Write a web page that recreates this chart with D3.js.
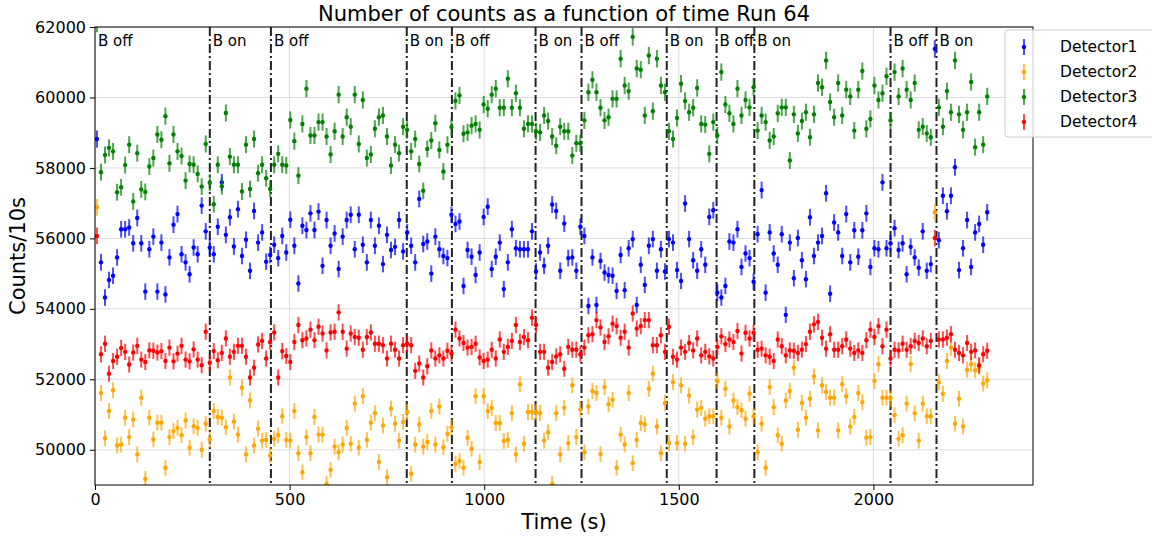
<!DOCTYPE html>
<html><head><meta charset="utf-8">
<script src="https://cdn.jsdelivr.net/npm/d3@7"></script>
<style>
html,body{margin:0;padding:0;background:#fff;}
text{font-family:"DejaVu Sans",sans-serif;}
</style></head>
<body><svg id="chart" width="1152" height="539"></svg>
<script>
const seriesNames = ["Detector1","Detector2","Detector3","Detector4"];
const seriesColors = ["#0000ff","#ffa500","#008000","#ff0000"];
const xTicks = [0,500,1000,1500,2000];
const yTicks = [50000,52000,54000,56000,58000,60000,62000];
const switchTimes = [295,452,801,917,1132,1250,1469,1597,1694,2044,2162];
const switchLabels = ["B off","B on","B off","B on","B off","B on","B off","B on","B off","B on","B off","B on"];
const tStart = 5, tStep = 10.35;

const detector3 = [62100,57880,58370,58570,58470,57310,57450,58080,58660,57050,58420,57390,57320,58040,58280,58950,58800,59470,58130,58950,58470,58340,57640,58110,58090,57830,57470,58680,57580,56970,58090,57480,59560,58320,58090,58090,57330,58660,
57400,58820,57850,58090,57710,57400,58090,58400,58090,58070,59360,58760,57780,59250,60250,58920,58920,59300,59300,58890,58380,59040,60080,58890,59440,59170,60080,58680,59930,58280,58380,59110,59440,59490,58890,58070,58660,58420,59170,
59080,58470,58820,58110,57350,58540,58780,59270,58510,57900,58660,59160,59900,60060,58970,59010,59200,59250,59080,59800,59680,60080,60250,59710,59710,60530,59710,60120,59710,59110,59250,59250,59040,59010,59490,59330,58890,58630,
59170,59040,59040,58350,58700,58700,59350,60150,60500,60150,59710,59350,59440,59960,59960,61100,60340,60180,61720,60820,60790,59490,61190,59610,61100,60340,60150,59040,58820,59420,60390,59900,59580,59710,60270,59250,59230,58400,
59300,58920,60720,59800,59550,59250,60250,59490,59930,59720,60290,59060,59490,59300,58780,58890,59550,59720,59720,58210,59520,58980,59330,59580,58870,59520,60410,60290,61050,59870,59440,60410,59490,60220,60030,59060,60220,60750,59110,
59390,60340,59930,60120,60600,59350,60720,60030,60820,60220,59930,60410,59080,59170,58980,58870,64500,59720,59170,60180,59580,61050,59520,59080,59580,60440,58590,59580,58660,60030];

const detector1 = [58820,55320,54320,54820,54940,55460,56260,56260,56310,55860,56580,55860,54490,55690,56050,54490,55880,54410,55460,56390,56690,55550,55320,54980,55740,55550,56930,56200,55740,55550,56330,57590,56100,56600,55770,56830,55500,55960,
55080,56780,55880,56170,55340,55530,55820,55440,56070,55600,56530,55790,54720,56360,56240,56710,56240,56760,55220,56520,55790,56140,55130,56050,56520,56670,55690,56670,55820,55320,56520,55790,56360,55270,56100,55670,55760,56520,55630,
56170,55790,55320,57120,55840,55910,55000,56050,55690,55500,55440,56670,56410,56480,54650,55670,55480,54960,55600,56610,56900,55130,55480,55880,54560,55320,56260,55720,55690,55690,55690,56200,55060,55600,55220,55790,56960,56780,
55080,56420,55440,55460,55080,56330,56070,54080,55460,54110,55360,55030,54960,54940,54510,55530,54530,55720,55980,54110,55250,54680,55790,55980,55080,55690,55060,55980,55880,55100,54790,56990,55980,55380,55080,55690,55250,56610,
56800,54460,54320,54650,55910,55880,56260,55190,55570,55440,54770,56120,57370,54460,56170,55570,55250,56120,53830,55880,54870,56010,55380,54840,56600,55500,55880,56070,57280,54430,56450,56170,55500,56690,55320,56230,55480,56230,56710,
55190,55720,55690,57590,55720,55860,56290,55670,55860,54980,55760,55460,55170,56200,55080,55270,61380,55950,57210,56770,57210,58020,55100,55720,56520,55190,56170,56410,55820,56740];

const detector4 = [56070,52710,53010,52160,52520,52640,52890,52780,52420,52760,52950,52560,52490,52820,52810,52760,52800,52520,52900,52510,52730,52950,52560,52510,52850,52560,52400,53350,52470,52800,52540,52750,53160,52640,52780,52950,52950,52640,
52050,52330,52990,53090,52590,53060,53330,52050,52800,52660,52490,53060,53540,53110,53160,53410,53110,53490,53300,52820,53330,53350,53900,53350,52870,53300,53200,53180,52840,53200,53330,53010,53010,52970,52590,53010,52840,52590,52970,
53010,52970,52240,52450,52050,52370,52820,52590,52680,52590,52810,52730,53410,53160,53030,52900,52920,53010,52620,52520,52560,52840,52590,53130,52780,52920,53090,53540,53060,53200,53110,53750,53540,52780,52780,52330,52490,52650,
52710,52300,52920,52840,52840,52710,52900,53250,53280,53680,53470,53060,53220,53580,53510,53180,53350,52900,53870,53440,53510,53680,53680,52970,52970,53250,52780,53490,52640,52560,52900,52780,53030,52820,53160,52680,52780,52650,
52590,52920,53220,53000,53130,53060,53370,52730,53320,53160,53320,52840,52870,52680,52640,52520,53130,52940,52680,52820,52810,52750,52840,53000,53350,53560,53630,53180,52870,53280,52840,52840,52940,53130,52870,52750,52820,52750,53110,
53410,53200,53510,52940,53410,52590,52840,52820,53010,52840,52940,53090,53030,53160,52940,53090,56010,53130,53130,53180,53280,52840,52750,52680,53030,52780,52820,52400,52710,52810];

const detector2 = [56880,51610,50330,51100,51690,50120,50150,50910,50360,50860,49870,51480,49170,50910,50290,50770,50770,49490,50360,50530,50620,50410,50830,50060,50670,50620,50000,50740,50290,51100,50930,50910,50640,52050,50800,50430,51760,49870,
51400,50120,50600,50260,50280,49840,50310,50410,50950,50280,50260,51100,49900,49360,50360,49900,50930,50430,50430,49030,49430,50090,49930,50150,50620,50170,51310,50060,51520,50280,50770,51040,49650,50690,49220,51170,50740,50260,50790,
51070,49320,50150,50720,50090,50220,51100,50150,51230,50070,50450,50640,49600,49680,49490,50340,50030,51520,49650,51520,51100,51190,50760,50760,50250,50280,51040,49870,51860,50170,51070,51070,51070,51040,50260,50500,49030,51040,
49870,51190,50190,51830,50360,51140,49930,51230,51670,51610,49880,51780,51290,51420,49490,50430,50150,51610,49620,50280,50760,50720,51730,52160,50660,49900,51330,50190,51920,50190,51830,50170,51540,50360,51140,51190,50880,50950,
50950,51950,50910,51730,50660,51400,51210,51120,50880,51590,50950,49930,50740,49490,51780,51210,50410,50170,51400,51670,52330,50570,51330,50910,51450,52080,50550,51830,51640,51480,51480,50550,51860,51520,50660,50930,51610,51350,50340,
50360,51950,52430,51480,51480,51450,50980,50310,50410,51310,52430,51040,50260,51310,50950,50950,56740,51920,51590,52520,52900,50740,51450,50660,52270,52430,52260,52350,51880,51970];

const seriesValues = [detector1, detector2, detector3, detector4];
const times = d3.range(detector1.length).map(i => tStart + i * tStep);

const W = 1152, H = 539;
const m = {left: 95, right: 1033, top: 27, bottom: 485};
const svg = d3.select("#chart");
const x = d3.scaleLinear().domain([0, 2410]).range([m.left, m.right]);
const y = d3.scaleLinear().domain([49000, 62000]).range([m.bottom, m.top]);

// grid
const grid = svg.append("g");
grid.selectAll(".gx").data(xTicks).join("line")
  .attr("x1", d => x(d)).attr("x2", d => x(d)).attr("y1", m.top).attr("y2", m.bottom)
  .attr("stroke", "#dcdcdc").attr("stroke-width", 1);
grid.selectAll(".gy").data(yTicks).join("line")
  .attr("y1", d => y(d)).attr("y2", d => y(d)).attr("x1", m.left).attr("x2", m.right)
  .attr("stroke", "#dcdcdc").attr("stroke-width", 1);

svg.append("defs").append("clipPath").attr("id", "clip")
  .append("rect").attr("x", m.left).attr("y", m.top).attr("width", m.right - m.left).attr("height", m.bottom - m.top);

// switch lines
const sw = svg.append("g").attr("clip-path", "url(#clip)");
sw.selectAll("line").data(switchTimes).join("line")
  .attr("x1", d => x(d)).attr("x2", d => x(d)).attr("y1", m.top).attr("y2", m.bottom)
  .attr("stroke", "#222").attr("stroke-width", 2).attr("stroke-dasharray", "9,3,2,3");

// data
const dataG = svg.append("g").attr("clip-path", "url(#clip)");
seriesValues.forEach((vals, si) => {
  const pts = vals.map((v, i) => ({t: times[i], v, e: Math.sqrt(v)}));
  const g = dataG.append("g");
  g.selectAll("line").data(pts).join("line")
    .attr("x1", d => x(d.t)).attr("x2", d => x(d.t))
    .attr("y1", d => y(d.v - d.e)).attr("y2", d => y(d.v + d.e))
    .attr("stroke", seriesColors[si]).attr("stroke-width", 2).attr("stroke-opacity", 0.7);
  g.selectAll("circle").data(pts).join("circle")
    .attr("cx", d => x(d.t)).attr("cy", d => y(d.v)).attr("r", 2.2)
    .attr("fill", seriesColors[si]);
});

// switch labels
const labelTimes = [0].concat(switchTimes);
svg.append("g").selectAll("text").data(switchLabels).join("text")
  .attr("x", (d, i) => x(labelTimes[i]) + 3).attr("y", 46)
  .attr("font-size", 15).attr("fill", "#000").text(d => d);

// frame
svg.append("rect").attr("x", m.left).attr("y", m.top).attr("width", m.right - m.left).attr("height", m.bottom - m.top)
  .attr("fill", "none").attr("stroke", "#000").attr("stroke-width", 1);

// axes
const xAxis = svg.append("g").attr("transform", `translate(0,${m.bottom})`)
  .call(d3.axisBottom(x).tickValues(xTicks).tickSize(5).tickPadding(4).tickFormat(d3.format("d")));
const yAxis = svg.append("g").attr("transform", `translate(${m.left},0)`)
  .call(d3.axisLeft(y).tickValues(yTicks).tickSize(5).tickPadding(4).tickFormat(d3.format("d")));
[xAxis, yAxis].forEach(a => {
  a.select(".domain").remove();
  a.selectAll("text").attr("font-size", 16).attr("fill", "#000").style("font-family", "DejaVu Sans");
  a.selectAll("line").attr("stroke", "#000");
});

// titles
svg.append("text").attr("x", (m.left + m.right) / 2).attr("y", 21).attr("text-anchor", "middle")
  .attr("font-size", 21).text("Number of counts as a function of time Run 64");
svg.append("text").attr("x", (m.left + m.right) / 2).attr("y", 529).attr("text-anchor", "middle")
  .attr("font-size", 21).text("Time (s)");
svg.append("text").attr("transform", `translate(25,${(m.top + m.bottom) / 2}) rotate(-90)`)
  .attr("text-anchor", "middle").attr("font-size", 21).text("Counts/10s");

// legend
const lg = svg.append("g");
lg.append("rect").attr("x", 1005).attr("y", 30).attr("width", 150).attr("height", 107).attr("rx", 3)
  .attr("fill", "#fff").attr("fill-opacity", 0.8).attr("stroke", "#ccc");
seriesNames.forEach((n, i) => {
  const yy = 47 + i * 25;
  lg.append("line").attr("x1", 1024).attr("x2", 1024).attr("y1", yy - 8).attr("y2", yy + 8)
    .attr("stroke", seriesColors[i]).attr("stroke-width", 2).attr("stroke-opacity", 0.7);
  lg.append("circle").attr("cx", 1024).attr("cy", yy).attr("r", 2.2).attr("fill", seriesColors[i]);
  lg.append("text").attr("x", 1060).attr("y", yy + 5).attr("font-size", 15.5).text(n);
});
</script></body></html>
